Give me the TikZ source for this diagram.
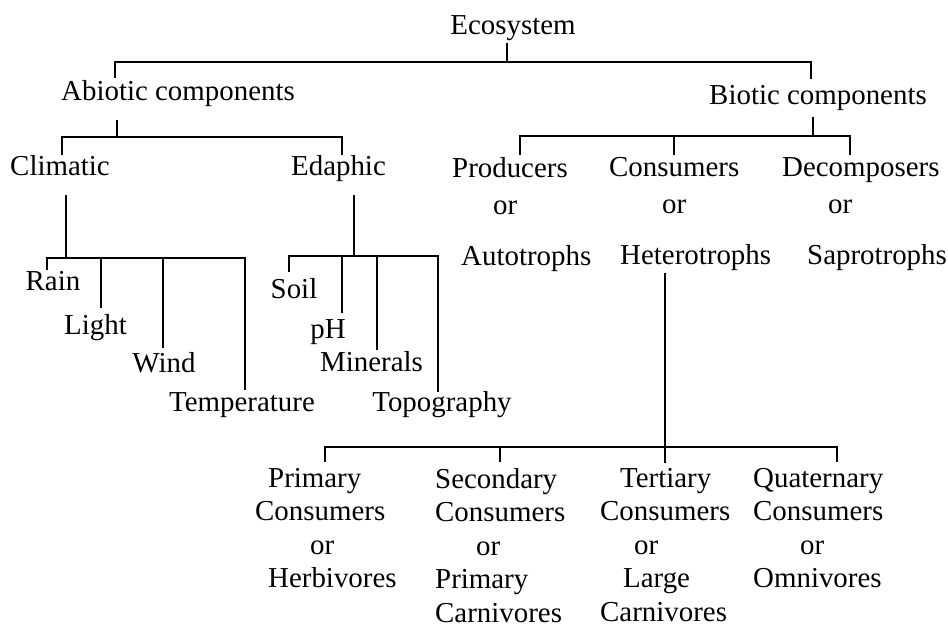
\documentclass[tikz,border=0pt]{standalone}
\usepackage{fontspec}
\setmainfont{Liberation Serif}
\tikzset{
  term/.style={inner sep=0pt, anchor=base},
  block/.style={inner sep=0pt, anchor=north west, align=left},
  link/.style={line width=2.8pt},
}
\begin{document}
\begin{tikzpicture}[x=1pt,y=-1pt,font=\fontsize{28.9}{34.5}\selectfont]
  \useasboundingbox (0,0) rectangle (948,628);
  % top of the tree
  \node[term] (eco) at (513,35) {Ecosystem};
  \node[term] (abio) at (178,101) {Abiotic components};
  \node[term] (bio) at (818,105) {Biotic components};
  % abiotic side
  \node[term] (clim) at (60,176) {Climatic};
  \node[term] (edap) at (338.5,176) {Edaphic};
  \node[term] (rain) at (53,291) {Rain};
  \node[term] (light) at (95.5,335) {Light};
  \node[term] (wind) at (164,372) {Wind};
  \node[term] (temp) at (242,411) {Temperature};
  \node[term] (soil) at (294,299) {Soil};
  \node[term] (ph) at (328,339) {pH};
  \node[term] (min) at (371.5,371) {Minerals};
  \node[term] (topo) at (442,411) {Topography};
  % biotic side
  \node[block] (prod) at (452,157) {Producers\\[3pt]\hspace*{41pt}or\\[16pt]\hspace*{9pt}Autotrophs};
  \node[block] (cons) at (609,157) {Consumers\\[3pt]\hspace*{53pt}or\\[16pt]\hspace*{11pt}Heterotrophs};
  \node[block] (deco) at (782,157) {Decomposers\\[3pt]\hspace*{46pt}or\\[16pt]\hspace*{25pt}Saprotrophs};
  \begin{scope}[font=\fontsize{28.9}{33.5}\selectfont]
  \node[block] (prim) at (255,468) {\hspace*{13pt}Primary\\Consumers\\\hspace*{55pt}or\\\hspace*{13pt}Herbivores};
  \node[block] (sec) at (435,468) {Secondary\\Consumers\\\hspace*{41pt}or\\Primary\\Carnivores};
  \node[block] (tert) at (600,468) {\hspace*{20pt}Tertiary\\Consumers\\\hspace*{34pt}or\\\hspace*{23pt}Large\\Carnivores};
  \node[block] (quat) at (753,468) {Quaternary\\Consumers\\\hspace*{47pt}or\\Omnivores};
  \end{scope}

  \draw[link] ([shift={(-6,8)}]eco.base) -- ++(0,19) coordinate (ecobar);
  \draw[link] ([shift={(-63,-23)}]abio.base) |- (ecobar) -| ([shift={(-7,-26)}]bio.base);

  \draw[link] ([shift={(-61,19)}]abio.base) -- ++(0,17) coordinate (abiobar);
  \draw[link] ([shift={(2,-21)}]clim.base) |- (abiobar) -| ([shift={(3.5,-21)}]edap.base);

  \draw[link] ([shift={(-5,12)}]bio.base) -- ++(0,19) coordinate (biobar);
  \draw[link] ([shift={(68,-2)}]prod.north west) |- (biobar) -| ([shift={(68,-2)}]deco.north west);
  \draw[link] ([shift={(65,-2)}]cons.north west) -- ++(0,-19);

  \draw[link] ([shift={(6,19)}]clim.base) -- ++(0,63) coordinate (climbar);
  \draw[link] ([shift={(-6,-21)}]rain.base) |- (climbar) -| ([shift={(3,-21)}]temp.base);
  \draw[link] ([shift={(5.5,-27)}]light.base) -- ++(0,-50);
  \draw[link] ([shift={(-1,-24)}]wind.base) -- ++(0,-90);

  \draw[link] ([shift={(15.5,19)}]edap.base) -- ++(0,61) coordinate (edapbar);
  \draw[link] ([shift={(-5,-27)}]soil.base) |- (edapbar) -| ([shift={(-4,-19)}]topo.base);
  \draw[link] ([shift={(14,-26)}]ph.base) -- ++(0,-57);
  \draw[link] ([shift={(5.5,-21)}]min.base) -- ++(0,-94);

  %\draw[link] (cons.south) -- (tert.north);
  \draw[link] ([shift={(56,2)}]cons.south west) -- ([shift={(65,-5)}]tert.north west);
  \draw[link] ([shift={(70,-6)}]prim.north west) |- ([shift={(65,-21)}]tert.north west) -| ([shift={(84,-6)}]quat.north west);
  \draw[link] ([shift={(65,-6)}]sec.north west) -- ++(0,-15);
\end{tikzpicture}
\end{document}
